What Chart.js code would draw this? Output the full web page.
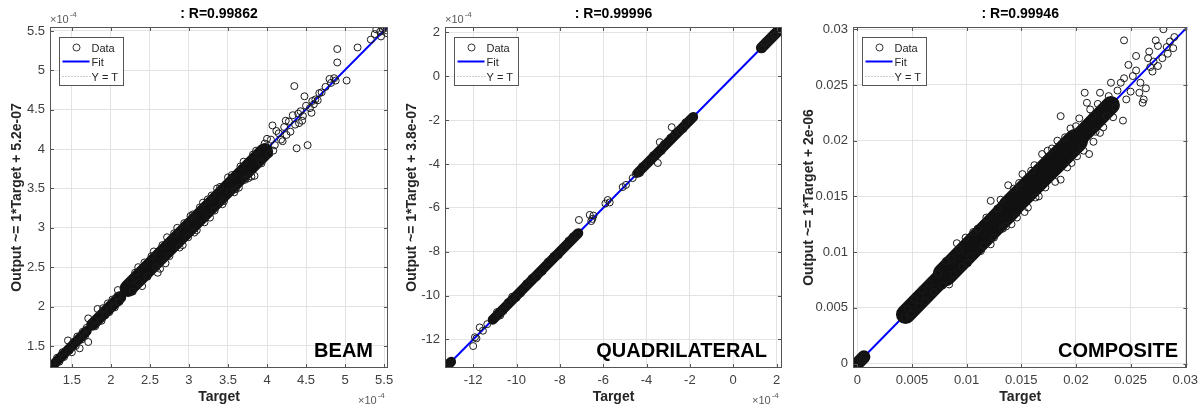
<!DOCTYPE html>
<html>
<head>
<meta charset="utf-8">
<script src="https://cdn.jsdelivr.net/npm/chart.js@4.4.1/dist/chart.umd.min.js"></script>
<style>
  body { margin: 0; background: #fff; width: 1203px; height: 410px; overflow: hidden; position: relative; }
  .panel { position: absolute; top: 0; height: 410px; }
</style>
</head>
<body>
<div class="panel" style="left:0;width:400px"><canvas id="beam" width="400" height="410"></canvas></div>
<div class="panel" style="left:400px;width:400px"><canvas id="quad" width="400" height="410"></canvas></div>
<div class="panel" style="left:800px;width:403px"><canvas id="comp" width="403" height="410"></canvas></div>
<script>
// ---- BEAM (values in units of 1e-4) ----
const beamTicks = [1.5, 2, 2.5, 3, 3.5, 4, 4.5, 5, 5.5];
const beamRange = [1.22, 5.55];
const beamFit = [[1.22, 1.225], [5.55, 5.555]];
const beamDense = [[[1.24, 1.24], [1.69, 1.69]], [[1.76, 1.77], [2.12, 2.12]], [[2.22, 2.23], [3.97, 3.97]]];
const beamPoints = [
  [1.23, 1.23], [1.25, 1.27], [1.28, 1.24], [1.31, 1.35], [1.34, 1.30], [1.38, 1.42], [1.40, 1.36],
  [1.45, 1.57], [1.47, 1.44], [1.50, 1.42], [1.52, 1.55], [1.55, 1.50], [1.57, 1.62], [1.60, 1.47],
  [1.62, 1.58], [1.64, 1.68], [1.67, 1.63], [1.71, 1.55], [1.71, 1.85], [1.69, 1.73],
  [1.78, 1.82], [1.80, 1.75], [1.83, 1.97], [1.85, 1.88], [1.88, 1.82], [1.90, 1.98], [1.93, 1.89],
  [1.96, 2.04], [1.98, 1.93], [2.02, 2.09], [2.05, 1.99], [2.08, 2.13], [2.09, 2.21], [2.11, 2.06],
  [2.25, 2.33], [2.28, 2.19], [2.31, 2.43], [2.36, 2.30], [2.43, 2.56], [2.47, 2.38], [2.52, 2.64],
  [2.60, 2.43], [2.58, 2.50], [2.66, 2.78], [2.72, 2.88], [2.75, 2.64], [2.81, 2.93], [2.88, 2.75],
  [2.94, 3.06], [2.99, 2.88], [3.05, 3.17], [3.07, 2.94], [3.14, 3.26], [3.20, 3.07], [3.24, 3.36],
  [3.29, 3.41], [3.33, 3.22], [3.40, 3.52], [3.45, 3.34], [3.52, 3.46], [3.55, 3.67], [3.60, 3.49],
  [3.66, 3.78], [3.72, 3.61], [3.80, 3.65], [3.84, 3.66], [3.82, 3.93], [3.90, 3.84], [3.93, 3.82],
  [2.35, 2.50], [2.40, 2.26], [2.55, 2.70], [2.63, 2.48], [2.70, 2.55], [2.85, 3.00], [2.92, 2.78],
  [3.02, 3.15], [3.10, 2.97], [3.18, 3.32], [3.27, 3.13], [3.36, 3.50], [3.43, 3.30], [3.50, 3.64],
  [3.58, 3.45], [3.64, 3.51], [3.70, 3.84], [3.76, 3.63], [3.86, 3.98],
  [3.97, 4.07], [4.03, 3.94], [4.07, 4.30], [4.05, 4.12], [4.10, 4.05], [4.15, 4.20], [4.18, 4.12],
  [4.00, 4.13], [4.08, 3.98], [4.12, 4.23], [4.20, 4.10], [4.24, 4.36], [4.30, 4.22], [4.40, 4.45],
  [4.45, 4.36], [4.55, 4.52], [4.60, 4.57], [4.65, 4.62],
  [4.22, 4.28], [4.25, 4.18], [4.28, 4.35], [4.33, 4.43], [4.36, 4.31], [4.41, 4.33], [4.38, 4.01],
  [4.43, 4.48], [4.48, 4.67], [4.46, 4.42], [4.52, 4.05], [4.50, 4.55], [4.57, 4.46], [4.58, 4.61],
  [4.62, 4.63], [4.67, 4.71], [4.70, 4.72], [4.35, 4.80], [4.75, 4.79], [4.80, 4.89], [4.82, 4.84],
  [4.86, 4.90], [4.88, 4.87], [4.90, 5.10], [4.90, 5.27], [5.02, 4.87], [5.16, 5.29],
  [5.33, 5.39], [5.38, 5.46], [5.40, 5.52], [5.45, 5.49], [5.48, 5.53], [5.50, 5.55], [5.53, 5.51],
  [5.54, 5.47], [5.46, 5.43]
];

// ---- QUADRILATERAL (values in units of 1e-4) ----
const quadTicks = [-12, -10, -8, -6, -4, -2, 0, 2];
const quadRange = [-13.3, 2.25];
const quadFit = [[-13.3, -13.3], [2.25, 2.25]];
const quadDense = [[[-13.28, -13.28], [-13.02, -13.02]], [[-11.1, -11.1], [-7.15, -7.15]],
                   [[-4.4, -4.4], [-1.85, -1.85]], [[1.3, 1.3], [2.2, 2.2]]];
const quadPoints = [
  [-13.28, -13.25], [-13.22, -13.15], [-13.18, -13.28], [-13.12, -13.05],
  [-12.0, -12.3], [-11.92, -11.9], [-11.85, -11.95], [-11.7, -11.45], [-11.55, -11.6], [-11.35, -11.3],
  [-10.9, -10.75], [-10.6, -10.7], [-10.2, -10.05], [-9.8, -9.9], [-9.3, -9.2], [-8.8, -8.9],
  [-8.3, -8.2], [-7.8, -7.85], [-7.4, -7.3], [-7.2, -7.25],
  [-10.75, -10.9], [-10.4, -10.3], [-10.0, -10.1], [-9.55, -9.45], [-9.05, -9.15], [-8.55, -8.45],
  [-8.05, -8.15], [-7.6, -7.5],
  [-7.12, -6.55], [-6.62, -6.32], [-6.5, -6.5], [-6.55, -6.6], [-6.45, -6.35], [-5.79, -5.64],
  [-5.9, -5.8], [-5.7, -5.75], [-5.1, -5.05], [-4.95, -4.95], [-4.64, -4.64], [-4.5, -4.45],
  [-4.2, -4.1], [-3.9, -3.95], [-3.48, -3.95], [-3.39, -3.0], [-3.2, -3.1], [-2.84, -2.32],
  [-2.9, -2.8], [-2.5, -2.5], [-2.2, -2.1], [-1.9, -1.9],
  [-4.3, -4.4], [-3.7, -3.6], [-3.3, -3.4], [-2.7, -2.6], [-2.3, -2.4], [-2.0, -1.95],
  [1.3, 1.32], [1.45, 1.5], [1.6, 1.55], [1.75, 1.8], [1.9, 1.85], [2.05, 2.1], [2.14, 2.23], [2.2, 2.15],
  [1.35, 1.25], [1.5, 1.6], [1.7, 1.65], [1.85, 1.95], [2.0, 1.95]
];

// ---- COMPOSITE ----
const compTicks = [0, 0.005, 0.01, 0.015, 0.02, 0.025, 0.03];
const compRange = [-0.0004, 0.0302];
const compFit = [[-0.0004, -0.0004], [0.0302, 0.0302]];
const compDense = [[[-0.0003, -0.0003], [0.0006, 0.0006]], [[0.0044, 0.0044], [0.0080, 0.0080]],
                   [[0.0080, 0.0080], [0.0140, 0.0140]], [[0.0140, 0.0141], [0.0200, 0.0200]],
                   [[0.0200, 0.0200], [0.0232, 0.0232]]];
const compPoints = [
  [-0.0003, -0.0004], [-0.0001, 0.0000], [0.0001, -0.0002], [0.0003, 0.0004], [0.0005, 0.0003], [0.0006, 0.0006],
  [0.0043, 0.0041], [0.0046, 0.0049], [0.0049, 0.0045], [0.0052, 0.0058], [0.0056, 0.0051], [0.0059, 0.0066],
  [0.0062, 0.0056], [0.0066, 0.0072], [0.0070, 0.0064], [0.0074, 0.0081], [0.0078, 0.0070], [0.0084, 0.0071],
  [0.0086, 0.0094], [0.0093, 0.0102], [0.0096, 0.0087], [0.0099, 0.0113], [0.0104, 0.0096], [0.0110, 0.0121],
  [0.0116, 0.0106], [0.0122, 0.0146], [0.0122, 0.0107], [0.0128, 0.0139], [0.0133, 0.0121], [0.0138, 0.0160],
  [0.0141, 0.0125], [0.0148, 0.0162], [0.0153, 0.0136], [0.0159, 0.0173], [0.0163, 0.0149], [0.0169, 0.0188],
  [0.0172, 0.0158], [0.0178, 0.0193], [0.0186, 0.0165], [0.0186, 0.0222], [0.0190, 0.0203], [0.0196, 0.0180],
  [0.0200, 0.0213], [0.0205, 0.0195], [0.0208, 0.0243], [0.0210, 0.0234], [0.0212, 0.0188], [0.0215, 0.0222],
  [0.0218, 0.0208], [0.0222, 0.0243], [0.0222, 0.0207], [0.0228, 0.0222], [0.0232, 0.0252], [0.0236, 0.0230],
  [0.0241, 0.0252], [0.0243, 0.0218], [0.0244, 0.0256], [0.0244, 0.0290], [0.0248, 0.0268], [0.0250, 0.0244],
  [0.0255, 0.0263], [0.0255, 0.0276], [0.0258, 0.0243], [0.0261, 0.0234], [0.0262, 0.0237], [0.0264, 0.0247],
  [0.0266, 0.0274], [0.0267, 0.0280], [0.0270, 0.0262], [0.0273, 0.0290], [0.0275, 0.0285], [0.0275, 0.0267],
  [0.0279, 0.0274], [0.0280, 0.0300], [0.0284, 0.0278], [0.0286, 0.0289], [0.0289, 0.0283],
  [0.0081, 0.0092], [0.0088, 0.0080], [0.0091, 0.0108], [0.0101, 0.0090], [0.0106, 0.0118], [0.0113, 0.0101],
  [0.0118, 0.0131], [0.0125, 0.0113], [0.0131, 0.0147], [0.0136, 0.0123], [0.0143, 0.0157], [0.0146, 0.0131],
  [0.0151, 0.0170], [0.0156, 0.0140], [0.0162, 0.0178], [0.0166, 0.0150], [0.0174, 0.0191], [0.0181, 0.0163],
  [0.0183, 0.0200], [0.0192, 0.0176], [0.0195, 0.0211], [0.0201, 0.0186], [0.0203, 0.0220], [0.0207, 0.0191],
  [0.0213, 0.0228], [0.0216, 0.0199], [0.0220, 0.0233], [0.0225, 0.0212], [0.0230, 0.0240], [0.0234, 0.0221],
  [0.0238, 0.0245], [0.0246, 0.0237], [0.0252, 0.0258], [0.0259, 0.0252], [0.0268, 0.0266], [0.0271, 0.0271],
  [0.0283, 0.0284], [0.0290, 0.0293]
];

const legendLabels = ['Data', 'Fit', 'Y = T'];
const FONT = '"Liberation Sans", Arial, Helvetica, sans-serif';

// draws the matlab-ish box, inward ticks, titles, legend and labels
const matlabFrame = {
  id: 'matlabFrame',
  afterDraw(chart) {
    const o = chart.options.plugins.matlabFrame;
    const { ctx, chartArea: a } = chart;
    const xs = chart.scales.x, ys = chart.scales.y;
    ctx.save();
    ctx.strokeStyle = '#555';
    ctx.lineWidth = 1;
    ctx.beginPath();
    o.ticks.forEach(v => {
      const px = Math.round(xs.getPixelForValue(v)) + 0.5;
      ctx.moveTo(px, a.bottom); ctx.lineTo(px, a.bottom - 4);
      ctx.moveTo(px, a.top); ctx.lineTo(px, a.top + 4);
      const py = Math.round(ys.getPixelForValue(v)) + 0.5;
      ctx.moveTo(a.left, py); ctx.lineTo(a.left + 4, py);
      ctx.moveTo(a.right, py); ctx.lineTo(a.right - 4, py);
    });
    ctx.stroke();
    ctx.strokeRect(Math.round(a.left) + 0.5, Math.round(a.top) + 0.5,
                   Math.round(a.right - a.left) - 1, Math.round(a.bottom - a.top) - 1);

    const cx = (a.left + a.right) / 2, cy = (a.top + a.bottom) / 2;
    ctx.fillStyle = '#000';
    ctx.textAlign = 'center';
    ctx.textBaseline = 'middle';
    ctx.font = 'bold 14px ' + FONT;
    ctx.fillText(o.title, cx, 14);
    ctx.fillStyle = '#262626';
    ctx.fillText('Target', cx, 397);
    ctx.save();
    ctx.translate(o.ylabelX, cy);
    ctx.rotate(-Math.PI / 2);
    ctx.fillText(o.ylabel, 0, 0);
    ctx.restore();

    // exponent labels
    if (o.exp) {
      const drawExp = (x, base) => {
        ctx.fillStyle = '#595959';
        ctx.textAlign = 'left';
        ctx.textBaseline = 'alphabetic';
        ctx.font = '11px ' + FONT;
        ctx.fillText('\u00d710', x, base);
        const w = ctx.measureText('\u00d710').width;
        ctx.font = '8px ' + FONT;
        ctx.fillText('-4', x + w + 1, base - 6);
      };
      drawExp(a.left, a.top - 4);
      drawExp(a.right - 30, 404);
    }

    // panel name
    ctx.fillStyle = '#000';
    ctx.textAlign = 'right';
    ctx.textBaseline = 'middle';
    ctx.font = 'bold 20px ' + FONT;
    ctx.fillText(o.name, o.nameRight, 351);

    // legend
    const bx = Math.round(a.left) + 9.5, by = Math.round(a.top) + 10.5;
    ctx.fillStyle = '#fff';
    ctx.fillRect(bx, by, 64, 48);
    ctx.strokeStyle = '#555';
    ctx.strokeRect(bx, by, 64, 48);
    const rows = [by + 10, by + 24, by + 39];
    ctx.strokeStyle = '#333';
    ctx.beginPath();
    ctx.arc(bx + 17, rows[0], 3.5, 0, Math.PI * 2);
    ctx.stroke();
    ctx.strokeStyle = '#0000ff';
    ctx.lineWidth = 2;
    ctx.beginPath(); ctx.moveTo(bx + 3, rows[1]); ctx.lineTo(bx + 30, rows[1]); ctx.stroke();
    ctx.strokeStyle = '#999';
    ctx.lineWidth = 1;
    ctx.setLineDash([1, 2]);
    ctx.beginPath(); ctx.moveTo(bx + 3, rows[2]); ctx.lineTo(bx + 31, rows[2]); ctx.stroke();
    ctx.setLineDash([]);
    ctx.fillStyle = '#262626';
    ctx.textAlign = 'left';
    ctx.font = '11px ' + FONT;
    legendLabels.forEach((t, i) => ctx.fillText(t, bx + 32, rows[i] + 1));
    ctx.restore();
  }
};

function toXY(list) {
  return list.map(p => ({ x: p[0], y: p[1] }));
}

function makePanel(id, c) {
  const datasets = [{
    type: 'scatter', label: legendLabels[0], data: toXY(c.points), order: 0,
    pointStyle: 'circle', pointRadius: 3.5, borderWidth: 1,
    borderColor: '#1a1a1a', backgroundColor: 'rgba(0,0,0,0)'
  }];
  c.dense.forEach((seg, i) => datasets.push({
    type: 'line', label: 'dense', data: toXY(seg), order: 1,
    borderColor: '#111', borderWidth: c.denseWidth[i], borderCapStyle: 'round',
    pointRadius: 0
  }));
  datasets.push({
    type: 'line', label: legendLabels[1], data: toXY(c.fit), order: 2,
    borderColor: '#0000ff', borderWidth: 2, pointRadius: 0
  });
  datasets.push({
    type: 'line', label: legendLabels[2], data: toXY(c.fit), order: 3,
    borderColor: '#999', borderWidth: 1, borderDash: [1, 2], pointRadius: 0
  });

  const axis = (w, h) => ({
    type: 'linear', min: c.range[0], max: c.range[1],
    afterBuildTicks: s => { s.ticks = c.ticks.map(v => ({ value: v })); },
    afterFit: s => { if (w) s.width = w; if (h) s.height = h; },
    grid: { color: '#e3e3e3', drawTicks: false },
    border: { display: false },
    ticks: {
      autoSkip: false, maxRotation: 0, padding: 5, color: '#404040',
      font: { family: FONT, size: 13 }, callback: v => String(v)
    }
  });

  new Chart(document.getElementById(id), {
    type: 'scatter',
    data: { datasets },
    options: {
      responsive: false,
      animation: false,
      events: [],
      layout: { padding: { top: 27, right: c.padRight, left: 0, bottom: 0 } },
      scales: { x: axis(0, 42), y: axis(c.yAxisWidth, 0) },
      plugins: {
        legend: { display: false },
        tooltip: { enabled: false },
        title: { display: false },
        matlabFrame: {
          ticks: c.ticks, title: c.title, ylabel: c.ylabel, ylabelX: c.ylabelX,
          exp: c.exp, name: c.name, nameRight: c.nameRight
        }
      }
    },
    plugins: [matlabFrame]
  });
}

makePanel('beam', {
  ticks: beamTicks, range: beamRange, fit: beamFit, dense: beamDense, denseWidth: [10, 12, 17],
  points: beamPoints, title: ': R=0.99862', ylabel: 'Output ~= 1*Target + 5.2e-07',
  ylabelX: 17, exp: true, name: 'BEAM', nameRight: 373, padRight: 12, yAxisWidth: 50
});
makePanel('quad', {
  ticks: quadTicks, range: quadRange, fit: quadFit, dense: quadDense, denseWidth: [10, 10, 10, 11],
  points: quadPoints, title: ': R=0.99996', ylabel: 'Output ~= 1*Target + 3.8e-07',
  ylabelX: 12, exp: true, name: 'QUADRILATERAL', nameRight: 367, padRight: 18, yAxisWidth: 45
});
makePanel('comp', {
  ticks: compTicks, range: compRange, fit: compFit, dense: compDense, denseWidth: [13, 19, 24, 24, 18],
  points: compPoints, title: ': R=0.99946', ylabel: 'Output ~= 1*Target + 2e-06',
  ylabelX: 9, exp: false, name: 'COMPOSITE', nameRight: 378, padRight: 13, yAxisWidth: 53
});
</script>
</body>
</html>
